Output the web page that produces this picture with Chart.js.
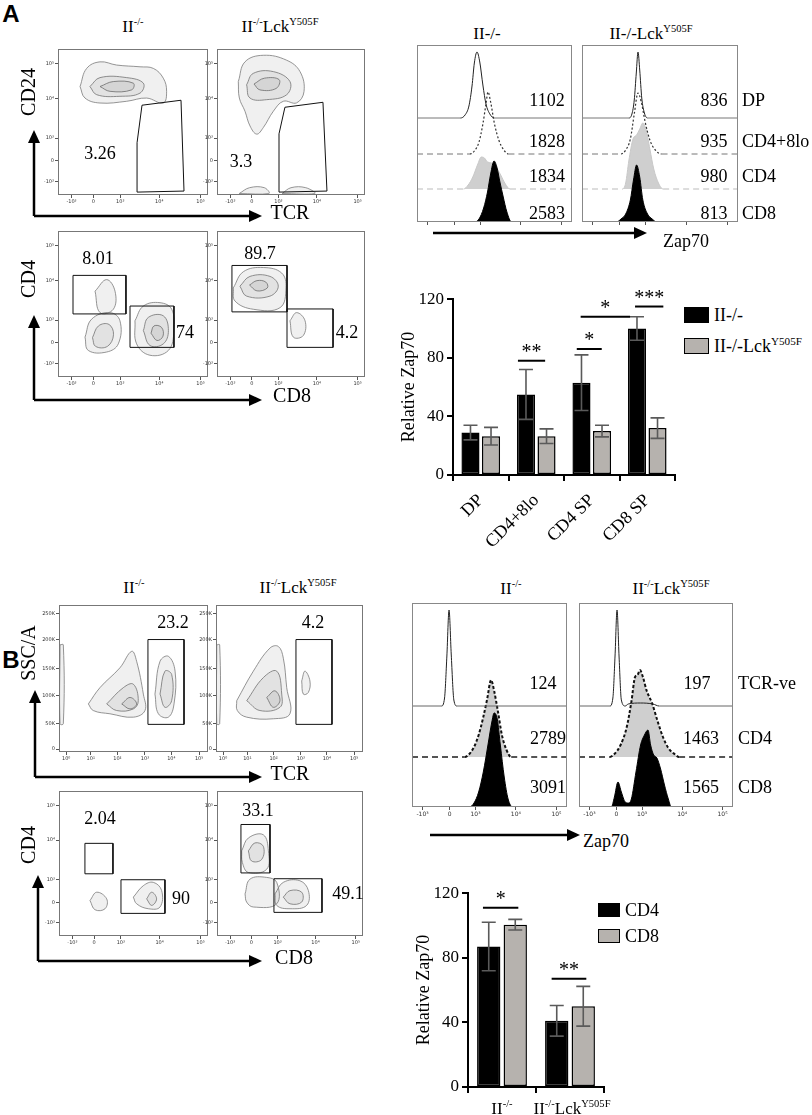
<!DOCTYPE html>
<html>
<head>
<meta charset="utf-8">
<script src="https://cdn.jsdelivr.net/npm/chart.js@4.4.1/dist/chart.umd.min.js"></script>
<style>
  body { margin: 0; background: #fff; }
  #fig { position: relative; width: 812px; height: 1115px; overflow: hidden; font-family: "Liberation Serif", "Times New Roman", serif; color: #000; }
  #fig canvas { position: absolute; }
  .t { position: absolute; white-space: nowrap; line-height: 1; }
  .t sup { font-size: 0.62em; vertical-align: 0.6em; line-height: 0; }
  .sq { position: absolute; border: 1.5px solid #000; box-sizing: border-box; }
  svg { position: absolute; left: 0; top: 0; }
</style>
</head>
<body>
<div id="fig"></div>
<script>
// ---------- bar chart data (A) ----------
const barCatsA = ['DP', 'CD4+8lo', 'CD4 SP', 'CD8 SP'];
const zapWtA = [29, 55, 63, 100];
const zapWtAErr = [5, 17, 19, 8];
const zapLckA = [26.5, 26.5, 30, 32];
const zapLckAErr = [6, 5, 4, 7];
const sigAFrom = [0.67, 1.73, 1.8, 2.78];
const sigATo = [1.16, 2.18, 2.69, 3.29];
const sigAY = [78, 86, 108, 115];
const sigAText = ['**', '*', '*', '***'];

// ---------- bar chart data (B) ----------
const barCatsB = ['II-/-', 'II-/-LckY505F'];
const zapCd4B = [87, 41];
const zapCd4BErr = [15, 9.5];
const zapCd8B = [100.5, 50];
const zapCd8BErr = [3.3, 12.3];
const sigBFrom = [-0.28, 0.73];
const sigBTo = [0.24, 1.24];
const sigBY = [111, 67];
const sigBText = ['*', '**'];

// ---------- flow axes (display units 0-100) ----------
const biexTicks = [9, 23.5, 41.5, 67.5, 95];
const biexTicksY = [9, 23.3, 39, 66.1, 90];
const biexLabels = ['-10³', '0', '10³', '10⁴', '10⁵'];
const logTicks = [4.8, 21.3, 39.2, 57.7, 75.4, 94];
const logLabels = ['10⁰', '10¹', '10²', '10³', '10⁴', '10⁵'];
const sscTicks = [2, 19.5, 38.3, 57, 76.5, 94];
const sscLabels = ['0', '50K', '100K', '150K', '200K', '250K'];

// ---------- flow gates & contour outlines ----------
const gateA_TL = [[56,61.5],[82,64.9],[84,2.7],[53.3,2],[52.7,35.8]];
const blobA_TL = [
  [[14.7,74.3],[19.1,86.7],[28,91.2],[39.1,89],[54.7,87.8],[63.6,86.7],[70.2,80],[72.4,71],[70.2,63],[59.1,66.4],[45.8,64.2],[28,63],[18,66.4]],
  [[21.3,74.3],[28,80.4],[45.8,80.4],[56.9,76.6],[54.7,69.8],[41.3,67.6],[25.8,68.7]],
  [[28,74.3],[36.9,77.7],[50.2,76.6],[49.1,72],[34.7,71]]
];
const gateA_TR = [[45.9,60.1],[71.6,63.5],[74.3,2.7],[41.9,2],[41.9,41.9]];
const blobA_TR = [
  [[14.4,77.7],[18.9,91.2],[31.3,95.7],[47.1,92.3],[56.1,84.5],[58.8,70.9],[53.8,63.1],[44.8,64.2],[38.1,57.4],[31.3,46.2],[26.8,41.7],[22.3,47.3],[18.9,57.4],[15.1,66.4]],
  [[20,75.5],[24.5,83.3],[38.1,84.5],[49.3,77.7],[47.1,68.7],[33.6,65.3],[22.3,66.4]],
  [[25,76],[32,80],[42,79],[40,73],[29,72]],
  [[15,1],[22,5],[32,5],[35,1]],
  [[44,1],[50,5],[60,5],[66,1]]
];
const gatesA_BL = [[[10,69.6],[45.3,69.6],[45.3,43.2],[10,43.2]], [[48,48.6],[77.3,48.6],[77.3,20.3],[48,20.3]]];
const blobA_BL = [
  [[24.7,58.8],[32.4,66.7],[38,58.8],[36.9,46.4],[28,44.1]],
  [[18,27.3],[22.4,39.6],[34.7,44.1],[41.3,38.5],[40.2,22.7],[32.4,17.1],[20.2,18.2]],
  [[23,27],[27,35],[34,36],[37,29],[33,21],[25,21]],
  [[51.3,38.5],[56.9,48.6],[68,50.9],[75.8,46.4],[77.3,31.8],[73.6,18.2],[61.3,14.9],[52.4,22.7]],
  [[56.9,31.8],[60.2,40.8],[70.2,41.9],[73.6,31.8],[70.2,22.7],[61.3,21.6]],
  [[62,30],[64,35],[69,34],[70,28],[66,25]]
];
const gatesA_BR = [[[10.1,76.4],[47.3,76.4],[47.3,44.6],[10.1,44.6]], [[47.3,46.6],[78.4,46.6],[78.4,20.3],[47.3,20.3]]];
const blobA_BR = [
  [[11,61],[17.8,72.1],[31.3,75],[43.7,71.2],[46.6,61],[42.6,47.5],[24.5,46.4],[12.2,52]],
  [[15.5,62.2],[22.3,68.9],[35.8,68.9],[41.4,62.2],[35.8,55.4],[20,55.4]],
  [[22,63],[27,66],[33,65],[34,61],[27,59]],
  [[49.3,38.5],[53.8,44.1],[59.5,38.5],[58.3,28.4],[51.6,27.3]]
];
const gateB_TL = [[59.7,76.5],[83.9,76.5],[83.9,18.8],[59.7,18.8]];
const blobB_TL = [
  [[19.7,32.7],[27.5,43.8],[40.9,57.3],[48.8,68.5],[52.1,61.7],[56.6,39.4],[57.7,28.2],[49.9,23.7],[34.2,26],[23,28.2]],
  [[32,32.7],[43.2,43.8],[49.9,46.1],[53.2,34.9],[49.9,29.3],[38.7,28.2]],
  [[42.1,32.7],[47.7,37.1],[52.1,32.7],[47.7,29.3]],
  [[64.4,39.4],[67.8,61.7],[73.4,65.1],[77.9,55],[77.2,32.7],[73.4,23.7],[66.7,26]],
  [[67.8,39.4],[71.1,55],[75.6,52.8],[75.6,34.9],[71.1,30.4]],
  [[0.7,72.9],[2.9,72.9],[2.9,19.2],[0.7,19.2]]
];
const gateB_TR = [[54.4,76.5],[78.9,76.5],[78.9,18.8],[54.4,18.8]];
const blobB_TR = [
  [[14.1,34.9],[25.4,55],[36.7,70.7],[42.4,71.8],[45.8,63.8],[48.1,43.8],[50.3,26],[39,22.6],[20.9,23.7],[14.5,28.2]],
  [[20.9,34.9],[32.2,50.6],[41.3,55],[44.7,39.4],[43.5,30.4],[29.9,28.2]],
  [[34.5,37.1],[40.1,41.6],[43.5,34.9],[39,30.4]],
  [[58.3,48.3],[60.5,55],[63.9,48.3],[62.8,40.5],[59.4,39.4]],
  [[0.5,72.9],[2.5,72.9],[2.5,19.2],[0.5,19.2]]
];
const gatesB_BL = [[[17.4,63.9],[36.2,63.9],[36.2,42.9],[17.4,42.9]], [[41.6,38.8],[71.1,38.8],[71.1,15.6],[41.6,15.6]]];
const blobB_BL = [
  [[20.8,24.5],[25.3,30.2],[32,25.6],[30.9,18.8],[24.2,18.1]],
  [[49.9,26.8],[56.6,34.7],[63.3,37],[68.9,31.3],[67.8,20],[60,18.8],[52.1,22.2]],
  [[58.8,25.6],[62.2,30.2],[65.5,25.6],[62.2,21.1]]
];
const gatesB_BR = [[[16.4,76.9],[36.3,76.9],[36.3,43.5],[16.4,43.5]], [[39,39.5],[71.9,39.5],[71.9,16.3],[39,16.3]]];
const blobB_BR = [
  [[16.9,58.7],[21.5,67.6],[31.7,69.8],[35.2,58.7],[34,46],[21.5,43.8],[17.4,50.6]],
  [[21.5,58.7],[26,64.2],[31.7,61.9],[30.6,52.8],[23.7,51.7]],
  [[19.2,29],[22.6,39.2],[34,40.4],[40.9,37],[40.9,22.2],[24.9,20],[20.3,23.4]],
  [[39.7,29],[45.4,37],[56.8,38.1],[62.6,31.3],[61.4,21.1],[50,18.8],[40.9,21.1]],
  [[45.4,26.8],[50,31.3],[58,30.2],[58,23.4],[50,22.2]]
];

// ---------- Zap70 histograms (x 0-100, height in counts-scale) ----------
const histTicks = [6.8, 24.3, 41, 67, 93.2];
const histLabels = ['-10³', '0', '10³', '10⁴', '10⁵'];
// A, II-/-
const aWtDpX = [0, 28, 31, 33.5, 35.5, 37, 38.7, 40.5, 42.5, 44.5, 47, 50, 100];
const aWtDpH = [0, 0, 3, 12, 32, 55, 66, 56, 33, 14, 4, 0, 0];
const aWtLoX = [0, 34, 37, 40, 42.5, 44.5, 45.8, 47.5, 50, 53, 56, 59, 100];
const aWtLoH = [0, 0, 3, 12, 30, 50, 62, 52, 30, 13, 4, 0, 0];
const aWtCd4X = [0, 30, 33, 36, 39, 41.5, 43.5, 45.5, 48, 51, 54, 57, 60, 100];
const aWtCd4H = [0, 0, 4, 12, 24, 32, 31, 27, 26, 22, 14, 5, 0, 0];
const aWtCd8X = [0, 37, 40, 43, 45.5, 47.5, 49.7, 51.5, 53.5, 55.5, 58, 61, 100];
const aWtCd8H = [0, 0, 3, 14, 30, 48, 61, 55, 40, 26, 10, 0, 0];
// A, II-/-LckY505F
const aLkDpX = [0, 30, 32, 33.5, 34.8, 35.9, 37, 38.3, 40, 42, 100];
const aLkDpH = [0, 0, 4, 18, 45, 66, 48, 20, 5, 0, 0];
const aLkLoX = [0, 25, 28, 31, 33.5, 35.9, 38, 40.5, 43.5, 47, 51, 100];
const aLkLoH = [0, 0, 4, 15, 40, 61, 52, 32, 14, 4, 0, 0];
const aLkCd4X = [0, 26, 28, 30, 32.7, 35, 37, 39, 41, 43.5, 46, 49, 52, 100];
const aLkCd4H = [0, 0, 6, 28, 50, 54, 60, 66, 60, 40, 20, 6, 0, 0];
const aLkCd8X = [0, 22, 25, 28, 31, 33, 35, 37, 39, 42, 45, 48, 100];
const aLkCd8H = [0, 0, 3, 8, 22, 42, 57, 45, 22, 8, 3, 0, 0];
// B, II-/-
const bWtNegX = [0, 19, 21, 22.5, 23.9, 25.3, 27, 29, 100];
const bWtNegH = [0, 0, 8, 50, 96, 52, 6, 0, 0];
const bWtCd4X = [0, 34, 37, 40, 43, 46, 48.5, 51, 53, 55.5, 58, 61, 64, 100];
const bWtCd4H = [0, 0, 3, 10, 22, 40, 58, 77, 66, 45, 22, 7, 0, 0];
const bWtCd8X = [0, 37, 40, 43, 46, 49, 51.5, 53, 55, 57, 59.5, 62, 65, 100];
const bWtCd8H = [0, 0, 4, 15, 35, 62, 85, 94, 88, 62, 30, 8, 0, 0];
// B, II-/-LckY505F
const bLkNegX = [0, 20, 22, 23.4, 24.7, 26, 27.5, 30, 32, 40, 48, 52, 100];
const bLkNegH = [0, 0, 8, 50, 96, 50, 6, 0, 2, 3, 2, 0, 0];
const bLkCd4X = [0, 20, 23, 27, 31, 34, 36.4, 38, 39.6, 41.5, 44, 47.4, 51, 54.5, 58, 62, 65, 100];
const bLkCd4H = [0, 0, 3, 12, 30, 55, 80, 82, 87, 80, 66, 54, 36, 20, 9, 3, 0, 0];
const bLkCd8X = [0, 21, 23, 25.3, 27.5, 30, 32, 34, 37, 40, 42.5, 44.8, 46.5, 48.5, 50.6, 53, 55.5, 58, 60, 100];
const bLkCd8H = [0, 0, 10, 25, 15, 5, 4, 8, 35, 62, 72, 77, 62, 52, 49, 38, 22, 8, 0, 0];

Chart.defaults.animation = false;
Chart.defaults.font.family = '"Liberation Serif", "Times New Roman", serif';
Chart.defaults.color = '#000';

const fig = document.getElementById('fig');
const SERIF = '"Liberation Serif", serif';
const SANS = '"DejaVu Sans", sans-serif';

function canvasAt(x, y, w, h) {
  const c = document.createElement('canvas');
  c.width = w; c.height = h;
  c.style.left = x + 'px'; c.style.top = y + 'px';
  c.style.width = w + 'px'; c.style.height = h + 'px';
  fig.appendChild(c);
  return c;
}

function text(html, x, y, size, align, opts) {
  opts = opts || {};
  const d = document.createElement('div');
  d.className = 't';
  d.innerHTML = html;
  d.style.left = x + 'px';
  d.style.top = y + 'px';
  d.style.fontSize = size + 'px';
  if (opts.bold) d.style.fontWeight = 'bold';
  if (opts.family) d.style.fontFamily = opts.family;
  let tr = align === 'l' ? 'translate(0,-50%)' : 'translate(-50%,-50%)';
  if (opts.rot) tr += ' rotate(-90deg)';
  d.style.transform = tr;
  fig.appendChild(d);
}

function square(x, y, w, h, color) {
  const d = document.createElement('div');
  d.className = 'sq';
  d.style.cssText += `left:${x}px;top:${y}px;width:${w}px;height:${h}px;background:${color}`;
  fig.appendChild(d);
}

const frameBox = {
  id: 'frameBox',
  afterDraw(chart, args, o) {
    const { left, top, right, bottom } = chart.chartArea;
    const ctx = chart.ctx;
    ctx.save();
    ctx.strokeStyle = o.color || '#777';
    ctx.lineWidth = 1;
    ctx.strokeRect(left + 0.5, top + 0.5, right - left - 1, bottom - top - 1);
    ctx.restore();
  }
};

function fixedTicks(values, labels, size) {
  return {
    afterBuildTicks: s => { s.ticks = values.map(v => ({ value: v })); },
    ticks: { callback: (v, i) => labels[i], font: { size: size, family: SANS }, color: '#333', padding: 1, maxRotation: 0, autoSkip: false },
    grid: { drawOnChartArea: false, tickLength: 3, color: '#555' },
    border: { display: false }
  };
}

function polyDs(pts, kind) {
  const closed = pts.concat([pts[0]]).map(p => ({ x: p[0], y: p[1] }));
  if (kind === 'gate') {
    return { data: closed, showLine: true, borderColor: '#111', borderWidth: 1, pointRadius: 0, tension: 0, fill: false };
  }
  return { data: closed, showLine: true, borderColor: '#7a7a7a', borderWidth: 0.8, pointRadius: 0, tension: 0.4,
           fill: 'shape', backgroundColor: 'rgba(0,0,0,0.06)' };
}

function flowPlot(box, xt, xl, yt, yl, gates, blobs) {
  const [l, t, r, b] = box;
  const PL = 24, PR = 2, PT = 2, PB = 13;
  const cv = canvasAt(l - PL, t - PT, r - l + PL + PR, b - t + PT + PB);
  const datasets = gates.map(g => polyDs(g, 'gate')).concat(blobs.map(g => polyDs(g, 'blob')));
  const xs = fixedTicks(xt, xl, 5), ys = fixedTicks(yt, yl, 5);
  new Chart(cv, {
    type: 'scatter',
    data: { datasets },
    options: {
      responsive: false, events: [],
      layout: { padding: { left: 0, right: PR, top: PT, bottom: 0 } },
      plugins: { legend: { display: false }, tooltip: { enabled: false }, frameBox: {} },
      scales: {
        x: Object.assign({ type: 'linear', min: 0, max: 100, afterFit: s => { s.height = PB; } }, xs),
        y: Object.assign({ type: 'linear', min: 0, max: 100, afterFit: s => { s.width = PL; } }, ys)
      }
    },
    plugins: [frameBox]
  });
}

// curve outline in its own style, flat baseline parts in the baseline style
function histPlot(box, curves, labels) {
  const [l, t, r, b] = box;
  const PL = 1, PR = 1, PT = 1, PB = 12;
  const cv = canvasAt(l - PL, t - PT, r - l + PL + PR, b - t + PT + PB);
  const datasets = curves.map(c => {
    const flat = ctx => ctx.p0.parsed.y === c.off && ctx.p1.parsed.y === c.off;
    return {
      data: c.x.map((x, i) => ({ x: x, y: c.off + c.h[i] })),
      borderColor: c.line, borderWidth: c.lw, borderDash: c.dash || [],
      backgroundColor: c.fill || 'transparent',
      fill: c.fill ? { value: c.off } : false,
      pointRadius: 0, cubicInterpolationMode: 'monotone',
      segment: {
        borderColor: ctx => flat(ctx) ? (c.baseLine || c.line) : undefined,
        borderDash: ctx => flat(ctx) ? (c.baseDash || c.dash || []) : undefined,
        borderWidth: ctx => flat(ctx) ? (c.baseLw || c.lw) : undefined
      }
    };
  });
  const xs = fixedTicks(histTicks, labels, 6);
  new Chart(cv, {
    type: 'line',
    data: { datasets },
    options: {
      responsive: false, events: [],
      layout: { padding: { left: PL, right: PR, top: PT, bottom: 0 } },
      plugins: { legend: { display: false }, tooltip: { enabled: false }, frameBox: { color: '#888' } },
      scales: {
        x: Object.assign({ type: 'linear', min: 0, max: 100, afterFit: s => { s.height = PB; } }, xs),
        y: { display: false, min: 0, max: b - t }
      }
    },
    plugins: [frameBox]
  });
}

const errAndSig = {
  id: 'errAndSig',
  afterDatasetsDraw(chart, args, o) {
    const ctx = chart.ctx, ys = chart.scales.y, xs = chart.scales.x;
    ctx.save();
    ctx.strokeStyle = '#5a5a5a';
    ctx.lineWidth = 1.6;
    chart.data.datasets.forEach((ds, di) => {
      chart.getDatasetMeta(di).data.forEach((bar, i) => {
        const v = ds.data[i], e = ds.errors[i];
        const y1 = ys.getPixelForValue(v + e), y2 = ys.getPixelForValue(v - e);
        ctx.beginPath();
        ctx.moveTo(bar.x, y1); ctx.lineTo(bar.x, y2);
        ctx.moveTo(bar.x - o.cap, y1); ctx.lineTo(bar.x + o.cap, y1);
        ctx.moveTo(bar.x - o.cap, y2); ctx.lineTo(bar.x + o.cap, y2);
        ctx.stroke();
      });
    });
    ctx.strokeStyle = '#000';
    ctx.fillStyle = '#000';
    ctx.lineWidth = 2;
    ctx.font = '20px ' + SERIF;
    ctx.textAlign = 'center';
    ctx.textBaseline = 'bottom';
    o.from.forEach((f, k) => {
      const xa = xs.getPixelForValue(f), xb = xs.getPixelForValue(o.to[k]), y = ys.getPixelForValue(o.y[k]);
      ctx.beginPath(); ctx.moveTo(xa, y); ctx.lineTo(xb, y); ctx.stroke();
      ctx.fillText(o.text[k], (xa + xb) / 2, y + 2);
    });
    ctx.restore();
  }
};

function barChart(pos, cats, series, sig, cfg) {
  const [l, t, w, h] = pos;
  const cv = canvasAt(l, t, w, h);
  new Chart(cv, {
    type: 'bar',
    data: {
      labels: cats,
      datasets: series.map(s => ({
        data: s.v, errors: s.e, backgroundColor: s.color, borderColor: '#000', borderWidth: 1.5, borderSkipped: false,
        categoryPercentage: cfg.catPct, barPercentage: cfg.barPct
      }))
    },
    options: {
      responsive: false, events: [],
      layout: { padding: { left: 0, right: 4, top: 8, bottom: 0 } },
      plugins: { legend: { display: false }, tooltip: { enabled: false }, errAndSig: Object.assign({ cap: cfg.cap }, sig) },
      scales: {
        y: {
          min: 0, max: 120,
          afterFit: s => { s.width = cfg.yw; },
          ticks: { stepSize: 40, font: { size: 17 }, padding: 3 },
          grid: { drawOnChartArea: false, tickLength: 6, color: '#000', lineWidth: 2 },
          border: { color: '#000', width: 2 },
          title: { display: true, text: 'Relative Zap70', font: { size: 18 }, padding: { top: 0, bottom: 2 } }
        },
        x: {
          afterFit: s => { s.height = cfg.xh; },
          ticks: { display: cfg.showX, minRotation: 45, maxRotation: 45, font: { size: 18 }, padding: 9 },
          grid: { offset: true, drawOnChartArea: false, tickLength: 6, color: '#000', lineWidth: 2 },
          border: { color: '#000', width: 2 }
        }
      }
    },
    plugins: [errAndSig]
  });
}

// ===== Panel A =====
text('A', 11, 14, 24, 'c', { bold: true, family: '"Liberation Sans", Arial, sans-serif' });
text('II<sup>-/-</sup>', 133, 26, 17);
text('II<sup>-/-</sup>Lck<sup>Y505F</sup>', 280, 26, 17);

flowPlot([58, 47, 208, 195], biexTicks, biexLabels, biexTicksY, biexLabels, [gateA_TL], blobA_TL);
flowPlot([217, 47, 365, 195], biexTicks, biexLabels, biexTicksY, biexLabels, [gateA_TR], blobA_TR);
flowPlot([58, 229, 208, 377], biexTicks, biexLabels, biexTicksY, biexLabels, gatesA_BL, blobA_BL);
flowPlot([217, 229, 365, 377], biexTicks, biexLabels, biexTicksY, biexLabels, gatesA_BR, blobA_BR);

text('3.26', 100, 153, 18);
text('3.3', 241, 161, 18);
text('8.01', 98, 258, 18);
text('74', 185, 332, 18);
text('89.7', 260, 253, 18);
text('4.2', 347, 332, 18);
text('CD24', 28, 92, 20, 'c', { rot: true });
text('TCR', 290, 212, 20);
text('CD4', 28, 279, 20, 'c', { rot: true });
text('CD8', 292, 395, 20);

text('II-/-', 487, 33, 17);
text('II-/-Lck<sup>Y505F</sup>', 651, 33, 17);
histPlot([417, 45, 572, 222], [
  { x: aWtDpX, h: aWtDpH, off: 104, line: '#222', lw: 1, baseLine: '#777' },
  { x: aWtLoX, h: aWtLoH, off: 68, line: '#333', lw: 1.2, dash: [2, 2], baseLine: '#777', baseDash: [6, 4], baseLw: 1 },
  { x: aWtCd8X, h: aWtCd8H, off: 0, line: '#000', lw: 1, fill: '#000' },
  { x: aWtCd4X, h: aWtCd4H, off: 33, line: '#c8c8c8', lw: 1, fill: '#cfcfcf', baseLine: '#bbb', baseDash: [6, 4] }
], histLabels.map(() => ''));
histPlot([582, 45, 738, 222], [
  { x: aLkDpX, h: aLkDpH, off: 104, line: '#222', lw: 1, baseLine: '#777' },
  { x: aLkLoX, h: aLkLoH, off: 68, line: '#333', lw: 1.2, dash: [2, 2], baseLine: '#777', baseDash: [6, 4], baseLw: 1 },
  { x: aLkCd8X, h: aLkCd8H, off: 0, line: '#000', lw: 1, fill: '#000' },
  { x: aLkCd4X, h: aLkCd4H, off: 33, line: '#c8c8c8', lw: 1, fill: '#cfcfcf', baseLine: '#bbb', baseDash: [6, 4] }
], histLabels.map(() => ''));
['1102', '1828', '1834', '2583'].forEach((s, i) => text(s, 547, [100, 141, 176, 213][i], 18));
['836', '935', '980', '813'].forEach((s, i) => text(s, 714, [100, 141, 176, 213][i], 18));
['DP', 'CD4+8lo', 'CD4', 'CD8'].forEach((s, i) => text(s, 742, [100, 141, 176, 213][i], 18, 'l'));
text('Zap70', 663, 241, 18, 'l');

barChart([398, 286, 281, 269], barCatsA, [
  { v: zapWtA, e: zapWtAErr, color: '#000' },
  { v: zapLckA, e: zapLckAErr, color: '#b6b2ae' }
], { from: sigAFrom, to: sigATo, y: sigAY, text: sigAText },
  { catPct: 0.74, barPct: 0.88, cap: 7, yw: 55, xh: 80, showX: true });
square(684, 307, 25, 16, '#000');
square(684, 338, 25, 16, '#b6b2ae');
text('II-/-', 714, 315, 18, 'l');
text('II-/-Lck<sup>Y505F</sup>', 714, 346, 18, 'l');

// ===== Panel B =====
text('B', 11, 660, 24, 'c', { bold: true, family: '"Liberation Sans", Arial, sans-serif' });
text('II<sup>-/-</sup>', 134, 587, 17);
text('II<sup>-/-</sup>Lck<sup>Y505F</sup>', 298, 587, 17);

flowPlot([59, 603, 208, 752], logTicks, logLabels, sscTicks, sscLabels, [gateB_TL], blobB_TL);
flowPlot([216, 603, 363, 752], logTicks, logLabels, sscTicks, sscLabels, [gateB_TR], blobB_TR);
flowPlot([59, 789, 208, 936], biexTicks, biexLabels, biexTicksY, biexLabels, gatesB_BL, blobB_BL);
flowPlot([217, 789, 363, 936], biexTicks, biexLabels, biexTicksY, biexLabels, gatesB_BR, blobB_BR);

text('23.2', 173, 622, 18);
text('4.2', 313, 622, 18);
text('2.04', 100, 818, 18);
text('90', 181, 898, 18);
text('33.1', 258, 810, 18);
text('49.1', 348, 893, 18);
text('SSC/A', 28, 653, 20, 'c', { rot: true });
text('TCR', 290, 773, 20);
text('CD4', 28, 845, 20, 'c', { rot: true });
text('CD8', 294, 957, 20);

text('II<sup>-/-</sup>', 511, 588, 17);
text('II<sup>-/-</sup>Lck<sup>Y505F</sup>', 671, 588, 17);
histPlot([412, 603, 567, 807], [
  { x: bWtNegX, h: bWtNegH, off: 101, line: '#222', lw: 1, baseLine: '#666' },
  { x: bWtCd8X, h: bWtCd8H, off: 0, line: '#000', lw: 1, fill: '#000' },
  { x: bWtCd4X, h: bWtCd4H, off: 50, line: '#111', lw: 2, dash: [3, 2], fill: '#cfcfcf', baseLine: '#555', baseDash: [6, 4], baseLw: 2 }
], histLabels);
histPlot([579, 603, 733, 807], [
  { x: bLkNegX, h: bLkNegH, off: 101, line: '#222', lw: 1, baseLine: '#666' },
  { x: bLkCd8X, h: bLkCd8H, off: 0, line: '#000', lw: 1, fill: '#000' },
  { x: bLkCd4X, h: bLkCd4H, off: 50, line: '#111', lw: 2, dash: [3, 2], fill: '#cfcfcf', baseLine: '#555', baseDash: [6, 4], baseLw: 2 }
], histLabels);
[['124', 543], ['2789', 548], ['3091', 548]].forEach((s, i) => text(s[0], s[1], [683, 738, 787][i], 18));
[['197', 697], ['1463', 701], ['1565', 701]].forEach((s, i) => text(s[0], s[1], [683, 738, 787][i], 18));
['TCR-ve', 'CD4', 'CD8'].forEach((s, i) => text(s, 738, [683, 738, 787][i], 18, 'l'));
text('Zap70', 583, 841, 18, 'l');

barChart([413, 880, 195, 237], barCatsB, [
  { v: zapCd4B, e: zapCd4BErr, color: '#000' },
  { v: zapCd8B, e: zapCd8BErr, color: '#b6b2ae' }
], { from: sigBFrom, to: sigBTo, y: sigBY, text: sigBText },
  { catPct: 0.78, barPct: 0.88, cap: 7, yw: 55, xh: 30, showX: false });
text('II<sup>-/-</sup>', 502, 1108, 17);
text('II<sup>-/-</sup>Lck<sup>Y505F</sup>', 572, 1108, 17);
square(598, 903, 22, 14, '#000');
square(598, 929, 22, 14, '#b6b2ae');
text('CD4', 625, 910, 18, 'l');
text('CD8', 625, 936, 18, 'l');

// ===== axis arrows =====
const arrows = [
  [34, 216, 34, 130], [34, 216, 262, 216],
  [34, 400, 34, 315], [34, 400, 262, 400],
  [433, 233, 647, 233],
  [35, 777, 35, 690], [35, 777, 262, 777],
  [38, 961, 38, 875], [38, 961, 262, 961],
  [430, 835, 580, 835]
];
const NS = 'http://www.w3.org/2000/svg';
const svg = document.createElementNS(NS, 'svg');
svg.setAttribute('width', 812); svg.setAttribute('height', 1115);
arrows.forEach(([x1, y1, x2, y2]) => {
  const len = Math.hypot(x2 - x1, y2 - y1), ux = (x2 - x1) / len, uy = (y2 - y1) / len;
  const hx = x2 - ux * 13, hy = y2 - uy * 13;
  const ln = document.createElementNS(NS, 'line');
  ln.setAttribute('x1', x1); ln.setAttribute('y1', y1); ln.setAttribute('x2', hx); ln.setAttribute('y2', hy);
  ln.setAttribute('stroke', '#000'); ln.setAttribute('stroke-width', 2.5);
  svg.appendChild(ln);
  const pg = document.createElementNS(NS, 'polygon');
  pg.setAttribute('points', `${x2},${y2} ${hx - uy * 6},${hy + ux * 6} ${hx + uy * 6},${hy - ux * 6}`);
  pg.setAttribute('fill', '#000');
  svg.appendChild(pg);
});
fig.appendChild(svg);
</script>
</body>
</html>
